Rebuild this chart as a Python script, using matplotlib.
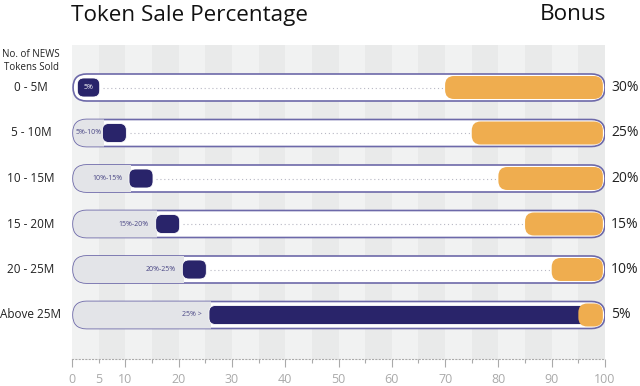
import matplotlib
matplotlib.use("Agg")
import matplotlib.pyplot as plt
import matplotlib.transforms as mtransforms
from matplotlib.patches import FancyBboxPatch, Rectangle
from matplotlib.ticker import FixedLocator, FixedFormatter

# ── data ──────────────────────────────────────────────────────────────────────
categories  = ["0 - 5M", "5 - 10M", "10 - 15M", "15 - 20M", "20 - 25M", "Above 25M"]
sale_lo     = [0, 5, 10, 15, 20, 25]
sale_hi     = [5, 10, 15, 20, 25, 100]
sale_labels = ["5%", "5%-10%", "10%-15%", "15%-20%", "20%-25%", "25% >"]
bonus       = [30, 25, 20, 15, 10, 5]
bonus_labels = [f"{b}%" for b in bonus]
major_ticks = [0, 10, 20, 30, 40, 50, 60, 70, 80, 90, 100]
minor_ticks = [5, 15, 25, 35, 45, 55, 65, 75, 85, 95]

NAVY, ORANGE, FILL, EDGE = "#29246a", "#efad4f", "#e3e4e8", "#6d69a9"
STRIPE = ("#f1f2f2", "#e9eaea")
TXT = "#222222"

plt.rcParams["font.family"] = ["Open Sans", "DejaVu Sans"]

W, H = 640, 386
fig = plt.figure(figsize=(W / 100, H / 100), dpi=100)
fig.patch.set_facecolor("white")
ax = fig.add_axes([72 / W, (H - 359) / H, (605 - 72) / W, (359 - 45) / H])
ax.set_xlim(0, 100)
ax.set_ylim(5 + 44 / 45.5, -42.5 / 45.5)

# pixel scale of the data axes, used to get round caps with equal radii
bb = ax.get_position()
ppx = bb.width * W / 100.0
ppy = bb.height * H / (5 + 44 / 45.5 + 42.5 / 45.5)
asp = ppx / ppy


def rbox(x0, x1, yc, h_px, r_px, **kw):
    h = h_px / ppy
    return FancyBboxPatch((x0, yc - h / 2), x1 - x0, h,
                          boxstyle=f"round,pad=0,rounding_size={r_px / ppx}",
                          mutation_aspect=asp, **kw)


for k in range(20):
    ax.axvspan(5 * k, 5 * k + 5, color=STRIPE[k % 2], lw=0, zorder=0)

for i, cat in enumerate(categories):
    cap = rbox(0.2, 100, i, 27, 13.5, facecolor="white", edgecolor=EDGE, lw=1.2, zorder=2)
    ax.add_patch(cap)
    lo, hi, b = sale_lo[i], sale_hi[i], bonus[i]
    if lo > 0:
        r = Rectangle((0, i - 0.4), lo + 1, 0.8, facecolor=FILL, lw=0, zorder=2.5)
        ax.add_patch(r)
        r.set_clip_path(cap)
    nx0 = lo + (1.0 if lo == 0 else 0.7)
    nx1 = min(hi + 0.2, 100 - b + 2.5)
    ax.add_patch(rbox(nx0, nx1, i, 19, 6.5, facecolor=NAVY, edgecolor="white", lw=0.6, zorder=4))
    ox0 = 100 - b
    if nx1 < ox0:
        ax.plot([nx1 + 0.6, ox0 - 0.4], [i, i], ls=(0, (1, 2.5)), color="#b8b8c4", lw=0.8, zorder=3)
    ax.add_patch(rbox(ox0, 99.6, i, 23, 9, facecolor=ORANGE, lw=0, zorder=5))
    if lo == 0:
        ax.text((nx0 + nx1) / 2, i, sale_labels[i], color="white", fontsize=5,
                ha="center", va="center", zorder=6)
    else:
        ax.text(max(lo - 0.6, 5.6), i, sale_labels[i], color="#4a4785", fontsize=5,
                ha="right", va="center", zorder=6)

tr = mtransforms.blended_transform_factory(fig.transFigure, ax.transData)
for i, cat in enumerate(categories):
    ax.text(31 / W, i, cat, transform=tr, ha="center", va="center", fontsize=8.5,
            color=TXT, clip_on=False)
    ax.text(611 / W, i, bonus_labels[i], transform=tr, ha="left", va="center",
            fontsize=10, color=TXT, clip_on=False)

fig.text(31 / W, 1 - 61 / H, "No. of NEWS\nTokens Sold", ha="center", va="center",
         fontsize=7, color=TXT, linespacing=1.25)
fig.text(71 / W, 1 - 15 / H, "Token Sale Percentage", ha="left", va="center",
         fontsize=16.2, color="#111111")
fig.text(606 / W, 1 - 15 / H, "Bonus", ha="right", va="center",
         fontsize=16.2, color="#111111")

# axis
for s in ("top", "right", "left"):
    ax.spines[s].set_visible(False)
ax.spines["bottom"].set_linestyle((0, (1, 2)))
ax.spines["bottom"].set_color("#aaaaaa")
ax.spines["bottom"].set_linewidth(0.8)
ax.set_yticks([])
ax.xaxis.set_major_locator(FixedLocator(major_ticks))
ax.xaxis.set_major_formatter(FixedFormatter([str(t) for t in major_ticks]))
ax.xaxis.set_minor_locator(FixedLocator(minor_ticks))
ax.xaxis.set_minor_formatter(FixedFormatter([str(t) if t == 5 else "" for t in minor_ticks]))
ax.tick_params(axis="x", which="major", length=6, width=0.8, color="#aaaaaa",
               labelcolor="#aaaaaa", labelsize=9, pad=4)
ax.tick_params(axis="x", which="minor", length=3, width=0.8, color="#aaaaaa",
               labelcolor="#aaaaaa", labelsize=9, pad=7)

fig.savefig("out.png", dpi=100, facecolor="white")
